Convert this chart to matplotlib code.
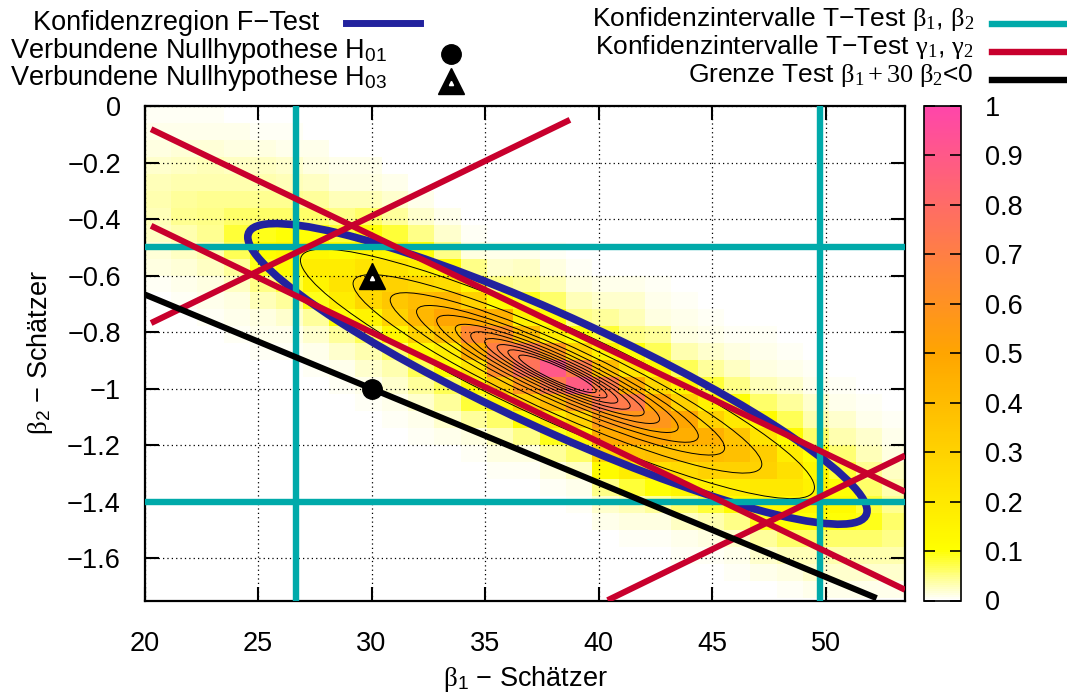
import numpy as np
import matplotlib
matplotlib.use('Agg')
import matplotlib.pyplot as plt
from matplotlib.colors import LinearSegmentedColormap
from matplotlib.patches import Circle, Rectangle
from matplotlib.transforms import Affine2D
from matplotlib.lines import Line2D

plt.rcParams['font.family'] = ['Liberation Sans', 'DejaVu Sans']
plt.rcParams['mathtext.fontset'] = 'custom'
plt.rcParams['mathtext.rm'] = 'Liberation Serif'
plt.rcParams['mathtext.it'] = 'Liberation Serif:italic'
plt.rcParams['mathtext.sf'] = 'Liberation Sans'

# ---------------- data ----------------
x_ticks = [20, 25, 30, 35, 40, 45, 50]
x_tick_labels = ['20', '25', '30', '35', '40', '45', '50']
y_ticks = [0, -0.2, -0.4, -0.6, -0.8, -1.0, -1.2, -1.4, -1.6]
y_tick_labels = ['0', '\u22120.2', '\u22120.4', '\u22120.6', '\u22120.8', '\u22121',
                 '\u22121.2', '\u22121.4', '\u22121.6']
cb_ticks = [0, 0.1, 0.2, 0.3, 0.4, 0.5, 0.6, 0.7, 0.8, 0.9, 1.0]
cb_labels = ['0', '0.1', '0.2', '0.3', '0.4', '0.5', '0.6', '0.7', '0.8', '0.9', '1']

# 2D histogram of the estimates (values in percent, per column, starting row)
heat_x0, heat_dx, heat_nx = 20.0, 1.16, 30
heat_y0, heat_dy, heat_ny = 0.0, -0.06, 30
heat_first_row = [0, 0, 0, 0, 0, 0, 1, 2, 2, 3, 4, 5, 7, 7, 8, 8, 9, 9, 9, 10,
                  11, 12, 12, 13, 14, 15, 16, 17, 18, 19]
heat_profiles = [
    [0.5, 1, 1.5, 2.2, 3, 3.5, 3, 2.5, 1.8, 1.2, 0.6, 0.3],
    [0.5, 1, 1.8, 2.5, 3.5, 4, 4.5, 3.5, 2.5, 1.8, 1, 0.5, 0.2],
    [0.4, 1, 1.8, 2.8, 3.5, 4.5, 5, 4.5, 3.5, 2.5, 1.5, 0.8, 0.4, 0.2],
    [0.3, 0.8, 1.5, 2.5, 3.5, 4.5, 6, 8, 7, 4, 2.5, 1.5, 0.8, 0.4, 0.2],
    [0.3, 0.6, 1.2, 2.5, 3.5, 4.5, 6, 9, 11, 9, 5, 3, 1.5, 0.8, 0.4, 0.2],
    [0.2, 0.5, 1, 2, 3, 4.5, 6, 10, 13, 12, 8, 4, 2, 1, 0.5, 0.2],
    [0.3, 0.8, 1.5, 2.5, 4, 6, 10, 14, 18, 15, 9, 4, 2, 1, 0.5, 0.2],
    [0.3, 0.8, 1.5, 3, 5, 8, 12, 18, 22, 18, 10, 4, 2, 1, 0.5, 0.2],
    [0.3, 0.8, 1.5, 3, 6, 10, 15, 22, 28, 28, 15, 7, 3.5, 2, 1, 0.4],
    [0.3, 0.8, 2, 4, 8, 14, 22, 30, 35, 30, 14, 6, 3.5, 2, 1, 0.4],
    [0.3, 0.8, 2, 5, 10, 18, 28, 40, 42, 30, 12, 7, 4, 2, 1, 0.4],
    [0.3, 0.8, 2, 5, 12, 25, 42, 50, 40, 18, 11, 7, 4, 2, 0.8, 0.3],
    [0.5, 1.5, 5, 14, 30, 50, 65, 48, 22, 14, 8, 4, 1.5, 0.5, 0.2],
    [0.3, 0.8, 2, 5, 12, 45, 62, 70, 62, 35, 14, 6, 3, 1.5, 0.6, 0.2],
    [0.8, 2.5, 4, 9, 16, 40, 72, 76, 58, 30, 11, 5, 1.5, 0.6, 0.2],
    [0.5, 1.5, 3, 6, 10, 18, 58, 90, 72, 42, 20, 9, 4, 1.5, 0.6, 0.2],
    [0.5, 1.5, 3, 5, 10, 30, 72, 88, 58, 30, 14, 6, 2.5, 1, 0.4, 0.2],
    [0.3, 1, 2, 4, 8, 16, 40, 72, 74, 56, 48, 28, 12, 5, 2, 0.8, 0.3],
    [0.3, 1, 2, 3, 5, 10, 22, 48, 72, 58, 50, 36, 18, 8, 3, 1.2, 0.5, 0.2],
    [0.5, 1, 1.5, 4, 7, 14, 28, 50, 58, 50, 38, 24, 10, 4, 1.5, 0.6, 0.3, 0.1],
    [0.5, 1, 1.5, 3.5, 7, 15, 30, 50, 46, 38, 26, 14, 6, 2.5, 1, 0.5, 0.2, 0.1],
    [0.5, 1, 2, 4, 8, 16, 30, 45, 40, 30, 17, 8, 3.5, 1.5, 0.6, 0.3, 0.1],
    [0.3, 0.6, 1.2, 2.5, 5, 10, 20, 36, 38, 30, 18, 12, 5, 2, 0.8, 0.4, 0.2],
    [0.4, 0.8, 1.5, 3, 6, 12, 22, 32, 30, 20, 13, 9, 4, 2, 0.8, 0.3],
    [0.5, 1, 2, 4, 7, 12, 18, 24, 20, 14, 10, 6, 3, 1.5, 0.6],
    [0.5, 1, 2, 3.5, 6, 10, 13, 16, 14, 10, 6, 3, 2, 1],
    [0.5, 1, 2, 3.5, 5.5, 8, 10, 12, 10, 6, 3.5, 2, 1],
    [0.5, 1, 2, 3, 4.5, 6, 8, 9, 6, 3.5, 2, 1],
    [0.5, 1, 1.5, 2.5, 3.5, 4.5, 6, 5, 3.5, 2, 1],
    [0.3, 0.8, 1.5, 2.5, 3.5, 4.5, 4, 3, 1.5, 0.8],
]

# F-test confidence region (ellipse) and density contours
ellipse_center = (38.19, -0.948)
ellipse_sd = (13.64, 0.532)
ellipse_corr = -0.91
contour_radii = [0.83, 0.66, 0.54, 0.455, 0.39, 0.33, 0.28, 0.235, 0.195,
                 0.16, 0.125]
contour_box = (26.67, 49.76, -1.40, -0.5)

# T-test confidence intervals for beta1, beta2
ttest_beta1 = [26.67, 49.76]
ttest_beta2 = [-0.5, -1.40]

# T-test confidence intervals for gamma1, gamma2 (segments)
gamma_x0 = [20.29, 20.29, 20.29, 40.40]
gamma_y0 = [-0.082, -0.424, -0.768, -1.749]
gamma_x1 = [53.50, 53.50, 38.74, 53.50]
gamma_y1 = [-1.365, -1.712, -0.049, -1.237]

# boundary beta1 + 30 beta2 = 0
bound_x = [20.0, 52.25]
bound_y = [-0.6667, -1.7417]

h01 = (30.0, -1.0)
h03 = (30.0, -0.6)

# ---------------- style ----------------
C_BLUE = '#22229e'
C_CYAN = '#00aaaa'
C_RED = '#c8002d'
FS = 19.5
FS_R = 19

cmap = LinearSegmentedColormap.from_list(
    'gp', [(0.0, '#ffffff'), (0.1, '#ffff00'), (0.5, '#ffa500'), (1.0, '#ff46aa')])

W, H = 1067, 695
def fx(px):
    return px / W
def fy(py):
    return 1 - py / H

fig = plt.figure(figsize=(W / 100, H / 100), dpi=100)
ax = fig.add_axes([fx(144.5), fy(600.5), fx(905) - fx(144.5), fy(106) - fy(600.5)])
cax = fig.add_axes([fx(924), fy(600.5), fx(961) - fx(924), fy(106) - fy(600.5)])

# heatmap
Z = np.zeros((heat_ny, heat_nx))
for c, (r0, prof) in enumerate(zip(heat_first_row, heat_profiles)):
    Z[r0:r0 + len(prof), c] = np.array(prof) / 100.0
xe = heat_x0 + heat_dx * np.arange(heat_nx + 1)
ye = heat_y0 + heat_dy * np.arange(heat_ny + 1)
mesh = ax.pcolormesh(xe, ye, Z, cmap=cmap, vmin=0, vmax=1, shading='flat',
                     edgecolors='none', antialiased=False, zorder=1)

# ellipse transform
cx, cy = ellipse_center
sx, sy = ellipse_sd
rho = ellipse_corr
M = Affine2D(np.array([[sx, 0.0, cx],
                       [rho * sy, sy * np.sqrt(1 - rho ** 2), cy],
                       [0.0, 0.0, 1.0]]))

bx0, bx1, by0, by1 = contour_box
for r in contour_radii:
    circ = Circle((0, 0), r, transform=M + ax.transData, fill=False,
                  ec='black', lw=0.7, zorder=2)
    ax.add_patch(circ)
    clip = Rectangle((bx0, by0), bx1 - bx0, by1 - by0, transform=ax.transData)
    circ.set_clip_path(clip)

ax.add_patch(Circle((0, 0), 1.0, transform=M + ax.transData, fill=False,
                    ec=C_BLUE, lw=5.5, zorder=3))

for xv in ttest_beta1:
    ax.axvline(xv, color=C_CYAN, lw=4.6, zorder=4)
for yv in ttest_beta2:
    ax.axhline(yv, color=C_CYAN, lw=4.6, zorder=4)

for x0, y0, x1, y1 in zip(gamma_x0, gamma_y0, gamma_x1, gamma_y1):
    ax.plot([x0, x1], [y0, y1], color=C_RED, lw=4.4, solid_capstyle='butt', zorder=5)

ax.plot(bound_x, bound_y, color='black', lw=4.4, solid_capstyle='butt', zorder=6)

ax.plot([h01[0]], [h01[1]], 'o', color='black', ms=14, zorder=7)
ax.plot([h03[0]], [h03[1]], '^', color='black', ms=19, zorder=7)
ax.plot([h03[0]], [h03[1] - 0.01], '^', color='white', ms=3, zorder=8)

ax.set_xlim(20, 53.5)
ax.set_ylim(-1.75, 0)
ax.set_xticks(x_ticks, labels=x_tick_labels)
ax.set_yticks(y_ticks, labels=y_tick_labels)
ax.grid(True, color='black', linestyle=(0, (1.0, 2.5)), linewidth=0.9)
ax.tick_params(axis='both', direction='in', top=True, right=True, length=10,
               width=1.5, labelsize=FS)
ax.tick_params(axis='x', pad=22)
ax.tick_params(axis='y', pad=17)
for s in ax.spines.values():
    s.set_linewidth(1.6)

# colorbar
cb = fig.colorbar(mesh, cax=cax, ticks=cb_ticks)
cb.set_ticklabels(cb_labels)
cax.tick_params(direction='in', left=True, right=True, length=8, width=1.2,
                labelsize=FS, pad=17)
cb.outline.set_linewidth(1.2)

# axis labels
MINUS = '\u2212'
fig.text(fx(525), fy(686), r'$\mathrm{\beta}_{\mathsf{1}}$ ' + MINUS + ' Schätzer',
         ha='center', va='baseline', fontsize=FS)
fig.text(fx(40), fy(353), r'$\mathrm{\beta}_{\mathsf{2}}$ ' + MINUS + ' Schätzer',
         ha='center', va='center', rotation=90, fontsize=FS)

# legend (manual, gnuplot style)
fig.text(fx(33), fy(30), 'Konfidenzregion F' + MINUS + 'Test', ha='left', va='baseline',
         fontsize=FS)
fig.add_artist(Line2D([fx(346), fx(420)], [fy(23), fy(23)], color=C_BLUE, lw=5.0,
                      transform=fig.transFigure))
fig.text(fx(10), fy(58), r'Verbundene Nullhypothese H$_{\mathsf{01}}$', ha='left',
         va='baseline', fontsize=FS)
fig.add_artist(Line2D([fx(451)], [fy(54)], marker='o', ms=14, color='black',
                      linestyle='none', transform=fig.transFigure))
fig.text(fx(10), fy(85), r'Verbundene Nullhypothese H$_{\mathsf{03}}$', ha='left',
         va='baseline', fontsize=FS)
fig.add_artist(Line2D([fx(451)], [fy(81)], marker='^', ms=19, color='black',
                      linestyle='none', transform=fig.transFigure))
fig.add_artist(Line2D([fx(451)], [fy(83)], marker='^', ms=3, color='white',
                      linestyle='none', transform=fig.transFigure))

fig.text(fx(974), fy(26), 'Konfidenzintervalle T' + MINUS + r'Test $\mathrm{\beta}_1$, $\mathrm{\beta}_2$',
         ha='right', va='baseline', fontsize=FS_R)
fig.add_artist(Line2D([fx(992), fx(1067)], [fy(23.5), fy(23.5)], color=C_CYAN, lw=4.6,
                      transform=fig.transFigure))
fig.text(fx(974), fy(54), 'Konfidenzintervalle T' + MINUS + r'Test $\mathrm{\gamma}_1$, $\mathrm{\gamma}_2$',
         ha='right', va='baseline', fontsize=FS_R)
fig.add_artist(Line2D([fx(992), fx(1067)], [fy(51.5), fy(51.5)], color=C_RED, lw=4.6,
                      transform=fig.transFigure))
fig.text(fx(974), fy(82), r'Grenze Test $\mathrm{\beta}_1 + 30\ \mathrm{\beta}_2$<0',
         ha='right', va='baseline', fontsize=FS_R)
fig.add_artist(Line2D([fx(992), fx(1067)], [fy(79.5), fy(79.5)], color='black', lw=4.6,
                      transform=fig.transFigure))

fig.savefig('out.png', dpi=100)
